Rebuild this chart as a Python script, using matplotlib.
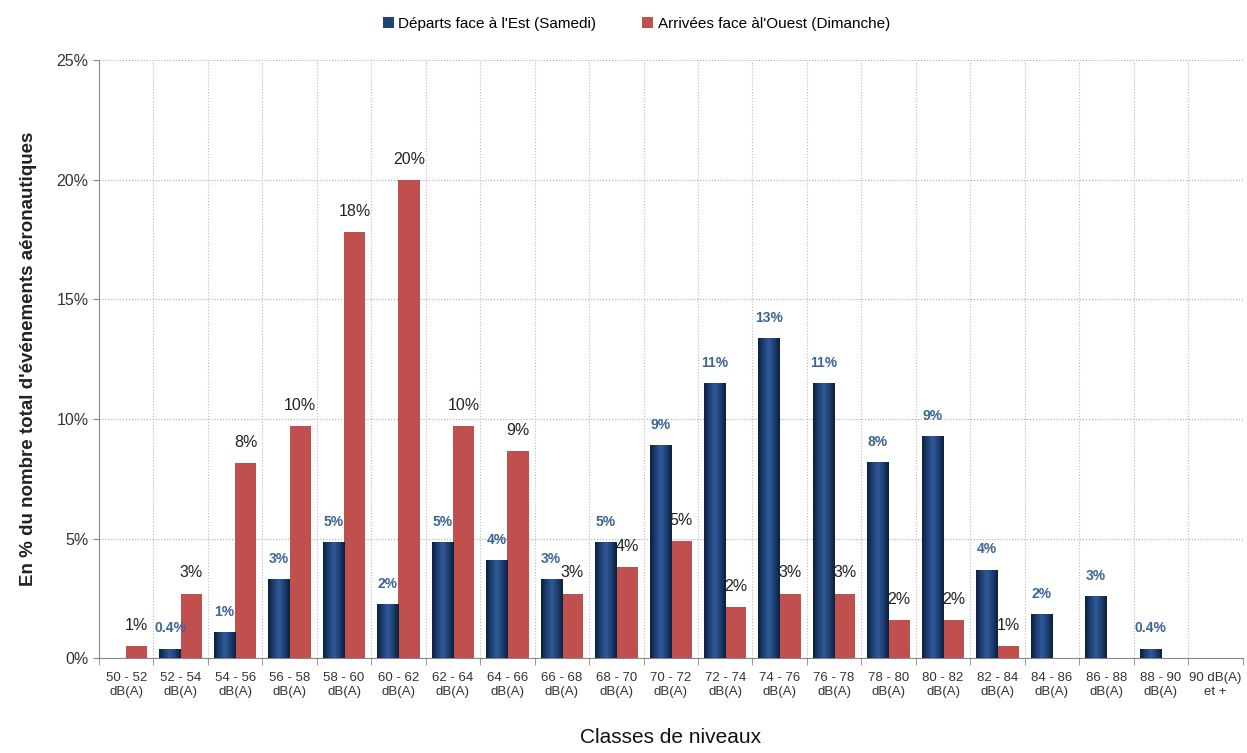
import numpy as np
import matplotlib
matplotlib.use("Agg")
import matplotlib.pyplot as plt
from matplotlib.colors import LinearSegmentedColormap

plt.rcParams['font.family'] = ['Liberation Sans Narrow', 'Liberation Sans', 'DejaVu Sans']

# data (in %)
classes = ["50 - 52\ndB(A)", "52 - 54\ndB(A)", "54 - 56\ndB(A)", "56 - 58\ndB(A)",
           "58 - 60\ndB(A)", "60 - 62\ndB(A)", "62 - 64\ndB(A)", "64 - 66\ndB(A)",
           "66 - 68\ndB(A)", "68 - 70\ndB(A)", "70 - 72\ndB(A)", "72 - 74\ndB(A)",
           "74 - 76\ndB(A)", "76 - 78\ndB(A)", "78 - 80\ndB(A)", "80 - 82\ndB(A)",
           "82 - 84\ndB(A)", "84 - 86\ndB(A)", "86 - 88\ndB(A)", "88 - 90\ndB(A)",
           "90 dB(A)\net +"]
departs_est = [0, 0.4, 1.1, 3.3, 4.85, 2.25, 4.85, 4.1, 3.3, 4.85, 8.9,
               11.5, 13.4, 11.5, 8.2, 9.3, 3.7, 1.85, 2.6, 0.4, 0]
arrivees_ouest = [0.5, 2.7, 8.15, 9.7, 17.8, 20.0, 9.7, 8.65, 2.7, 3.8, 4.9,
                  2.15, 2.7, 2.7, 1.6, 1.6, 0.5, 0, 0, 0, 0]
labels_est = ["", "0.4%", "1%", "3%", "5%", "2%", "5%", "4%", "3%", "5%", "9%",
              "11%", "13%", "11%", "8%", "9%", "4%", "2%", "3%", "0.4%", ""]
labels_ouest = ["1%", "3%", "8%", "10%", "18%", "20%", "10%", "9%", "3%", "4%", "5%",
                "2%", "3%", "3%", "2%", "2%", "1%", "", "", "", ""]

fig = plt.figure(figsize=(12.47, 7.53), dpi=100)
ax = fig.add_axes([0.0794, 0.126, 0.917, 0.794])

x = np.arange(len(classes))
w = 0.39

blue_cmap = LinearSegmentedColormap.from_list(
    "navy", ["#0b1f3d", "#1d3f72", "#2f5a9a", "#1d3f72", "#0b1f3d"])
grad = np.linspace(0, 1, 64).reshape(1, -1)

bars_b = ax.bar(x - w / 2, departs_est, w, color="#1f4478", zorder=3,
                label="Départs face à l'Est (Samedi)")
bars_r = ax.bar(x + w / 2, arrivees_ouest, w, color="#c0504d", zorder=3,
                label="Arrivées face àl'Ouest (Dimanche)")

# gradient look on the blue bars
for b in bars_b:
    if b.get_height() <= 0:
        continue
    x0 = b.get_x()
    im = ax.imshow(grad, cmap=blue_cmap, aspect="auto", zorder=4,
                   extent=[x0, x0 + b.get_width(), 0, b.get_height()])
    im.set_clip_path(b)

for i in range(len(classes)):
    if labels_est[i]:
        ax.text(x[i] - w / 2, departs_est[i] + 0.55, labels_est[i], ha="center",
                va="bottom", fontsize=10, fontweight="bold", color="#3c6597", zorder=5)
    if labels_ouest[i]:
        ax.text(x[i] + w / 2, arrivees_ouest[i] + 0.55, labels_ouest[i], ha="center",
                va="bottom", fontsize=11.5, color="#222222", zorder=5)

ax.set_xlim(-0.5, len(classes) - 0.5)
ax.set_ylim(0, 25)
ax.set_yticks(np.arange(0, 26, 5))
ax.set_yticklabels([f"{v}%" for v in range(0, 26, 5)], fontsize=11.5, color="#333333")

ax.set_xticks(x)
ax.set_xticklabels(classes, fontsize=9.5, color="#333333", linespacing=1.2)
ax.tick_params(axis="x", length=0, pad=10)
ax.set_xticks(np.arange(-0.5, len(classes), 1), minor=True)
ax.tick_params(axis="x", which="minor", length=5, color="#888888", direction="out")
ax.tick_params(axis="y", length=4, color="#888888")

ax.grid(True, axis="y", linestyle=":", color="#aaaaaa", linewidth=0.8, zorder=0)
ax.grid(True, axis="x", which="minor", linestyle=":", color="#bbbbbb", linewidth=0.8, zorder=0)
ax.grid(False, axis="x", which="major")

for s in ["top", "right"]:
    ax.spines[s].set_visible(False)
for s in ["left", "bottom"]:
    ax.spines[s].set_color("#888888")

ax.set_ylabel("En % du nombre total d'événements aéronautiques", fontsize=13.5,
              fontweight="bold", color="#222222", labelpad=14)
ax.set_xlabel("Classes de niveaux", fontsize=15, color="#111111", labelpad=22)

ax.legend(loc="upper center", bbox_to_anchor=(0.47, 1.095), ncol=2, frameon=False,
          fontsize=11, handlelength=0.7, handleheight=0.7, columnspacing=3,
          handletextpad=0.3)

fig.savefig("out.png", dpi=100)
